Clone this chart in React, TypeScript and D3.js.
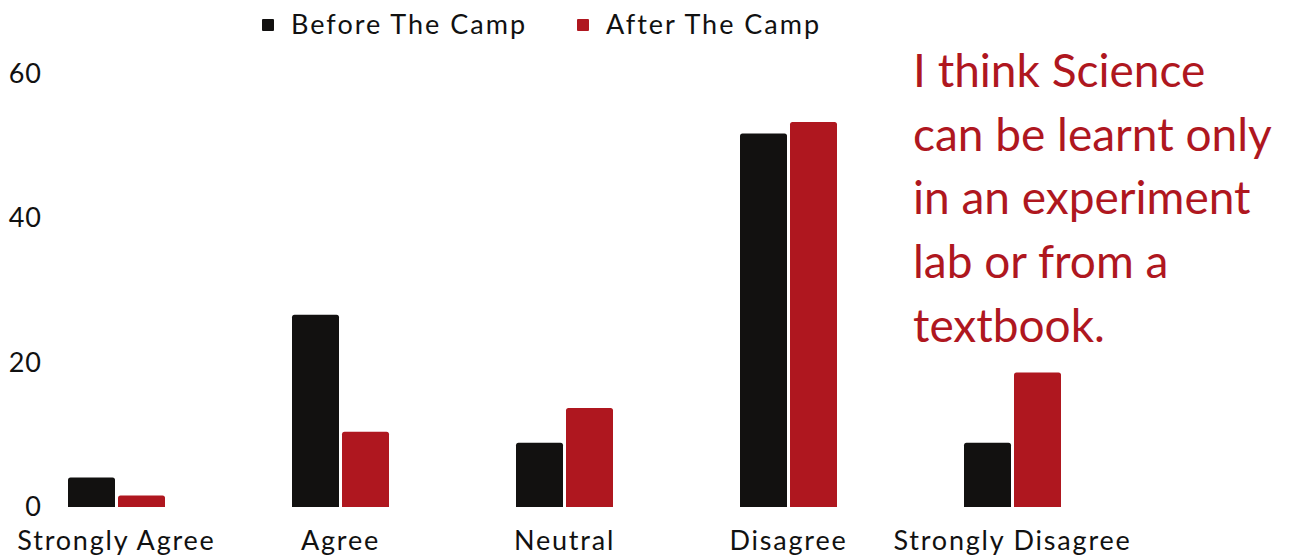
import React, { useEffect, useRef } from 'react';
import * as d3 from 'd3';

// 응답 항목
const categories = ['Strongly Agree', 'Agree', 'Neutral', 'Disagree', 'Strongly Disagree'];
const seriesNames = ['Before The Camp', 'After The Camp'];
const beforeValues = [4.1, 26.6, 8.9, 51.7, 8.9];
const afterValues = [1.6, 10.4, 13.7, 53.3, 18.6];
const yTicks = [0, 20, 40, 60];
const noteLines = ['I think Science', 'can be learnt only', 'in an experiment', 'lab or from a', 'textbook.'];

const colors = ['#121110', '#AF171F'];
const FONT = 'Lato, "Noto Sans", sans-serif';

const App = () => {
    const svgRef = useRef(null);

    useEffect(() => {
        const svg = d3.select(svgRef.current);
        svg.selectAll('*').remove();

        const width = 1291;
        const height = 559;

        // 스케일
        const xScale = d3.scaleBand<string>()
            .domain(categories)
            .range([4.5, 1124.5])
            .padding(0);

        const xInner = d3.scaleBand<string>()
            .domain(seriesNames)
            .range([-48.5, 48.5])
            .paddingInner(0.06);

        const yScale = d3.scaleLinear()
            .domain([0, 60])
            .range([507, 73.5]);

        // y축 라벨 (축선 없음)
        svg.append('g')
            .selectAll('text')
            .data(yTicks)
            .join('text')
            .attr('x', 42)
            .attr('y', d => yScale(d))
            .attr('dy', '0.35em')
            .attr('text-anchor', 'end')
            .attr('font-family', FONT)
            .attr('font-size', 27)
            .attr('letter-spacing', 1)
            .attr('fill', '#111')
            .text(d => d);

        // 윗부분만 둥근 막대
        const barPath = (x: number, y: number, w: number, h: number, r: number) => {
            const rr = Math.min(r, h / 2, w / 2);
            return `M${x},${y + h}V${y + rr}Q${x},${y} ${x + rr},${y}H${x + w - rr}Q${x + w},${y} ${x + w},${y + rr}V${y + h}Z`;
        };

        const allSeries = [beforeValues, afterValues];
        const groups = svg.append('g')
            .selectAll('g')
            .data(categories)
            .join('g')
            .attr('transform', d => `translate(${xScale(d)! + xScale.bandwidth() / 2},0)`);

        groups.selectAll('path')
            .data((_, i) => seriesNames.map((s, si) => ({ s, si, v: allSeries[si][i] })))
            .join('path')
            .attr('fill', d => colors[d.si])
            .attr('d', d => {
                const y0 = yScale(0);
                const y1 = yScale(d.v);
                return barPath(xInner(d.s)!, y1, xInner.bandwidth(), y0 - y1, 2.5);
            });

        // x축 라벨
        svg.append('g')
            .selectAll('text')
            .data(categories)
            .join('text')
            .attr('x', d => xScale(d)! + xScale.bandwidth() / 2)
            .attr('y', 550)
            .attr('text-anchor', 'middle')
            .attr('font-family', FONT)
            .attr('font-size', 27)
            .attr('letter-spacing', 1.8)
            .attr('fill', '#111')
            .text(d => d);

        // 범례
        const legendX = [262, 577];
        const legend = svg.append('g')
            .selectAll('g')
            .data(seriesNames)
            .join('g')
            .attr('transform', (_, i) => `translate(${legendX[i]},25)`);
        legend.append('rect')
            .attr('x', 0)
            .attr('y', -6)
            .attr('width', 12)
            .attr('height', 12)
            .attr('rx', 1)
            .attr('fill', (_, i) => colors[i]);
        legend.append('text')
            .attr('x', 29)
            .attr('y', 0)
            .attr('dy', '0.35em')
            .attr('font-family', FONT)
            .attr('font-size', 27)
            .attr('letter-spacing', 2)
            .attr('fill', '#111')
            .text(d => d);

        // 설문 문항
        svg.append('text')
            .attr('font-family', FONT)
            .attr('font-size', 46)
            .attr('fill', colors[1])
            .selectAll('tspan')
            .data(noteLines)
            .join('tspan')
            .attr('x', 913)
            .attr('y', (_, i) => 87 + i * 63.7)
            .text(d => d);

        svg.attr('width', width).attr('height', height);
    }, []);

    return (
        <svg ref={svgRef} width={1291} height={559} style={{ position: 'absolute', left: 0, top: 0, background: '#fff' }} />
    );
};

export default App;
